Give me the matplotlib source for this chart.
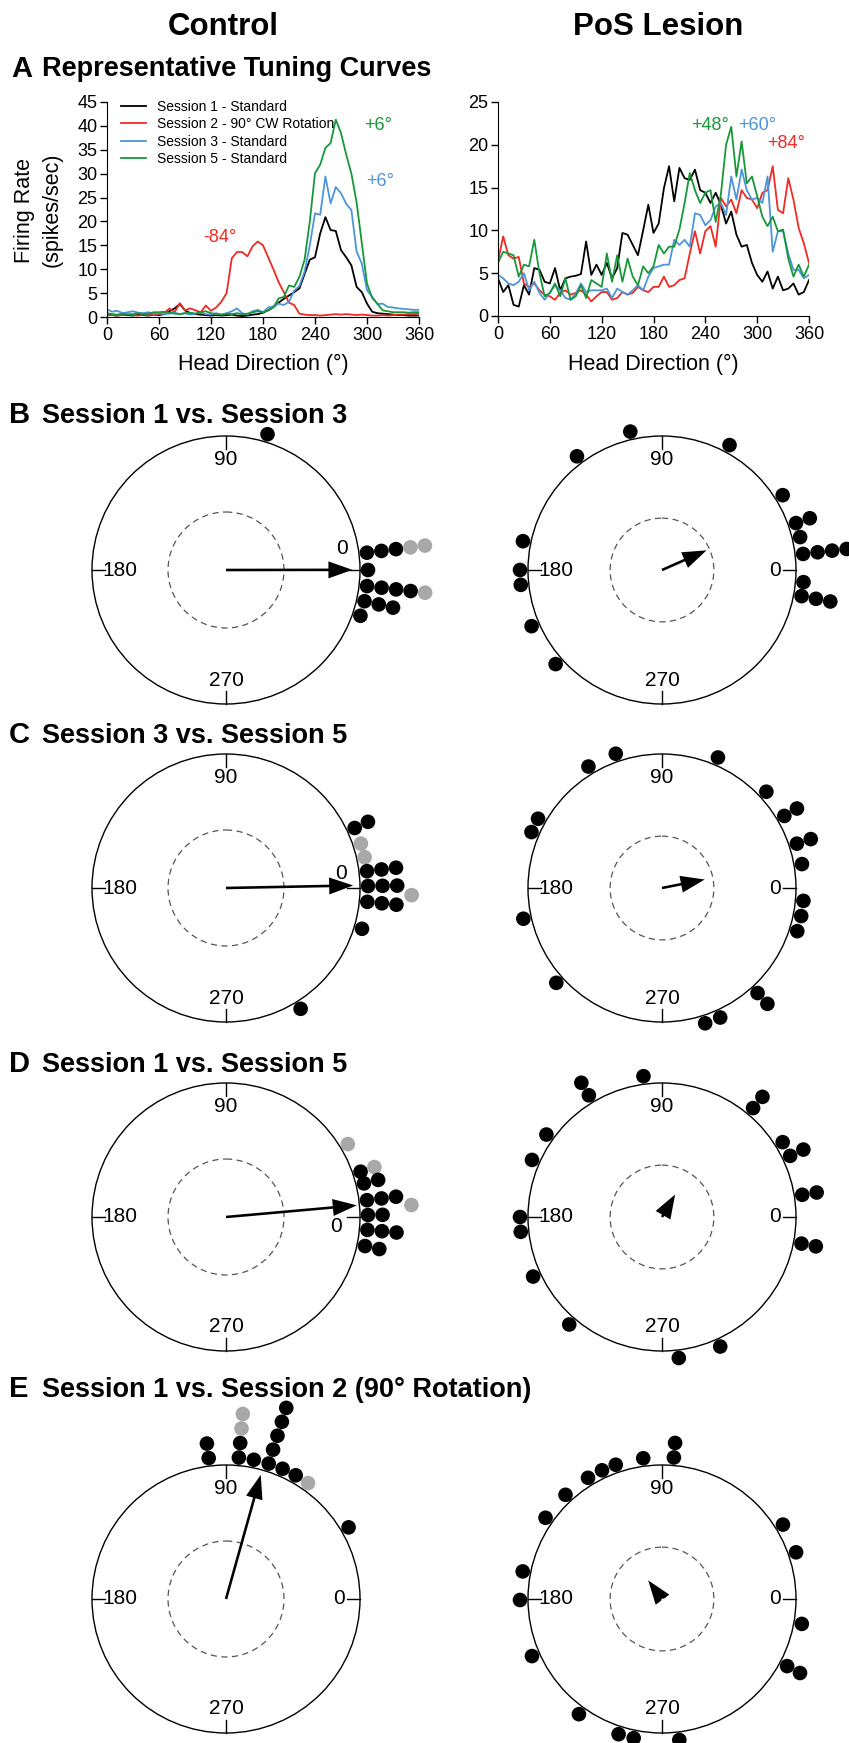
import numpy as np
import matplotlib.pyplot as plt
from matplotlib.patches import Circle, FancyArrow

plt.rcParams['font.family'] = ['Liberation Sans', 'DejaVu Sans']

W, H = 849, 1743

# ---------------- A: tuning curves, firing rate (spikes/sec) every 6 deg
hd = np.arange(0, 361, 6)

ctrl_s1 = [0.5, 0.4, 0.3, 0.5, 0.4, 0.3, 0.5, 0.4, 0.3, 0.5,
           0.4, 0.6, 1.2, 1.8, 2.7, 1.4, 0.8, 0.6, 0.5, 0.4,
           0.3, 0.4, 0.3, 0.4, 0.5, 0.3, 0.2, 0.3, 0.5, 0.6,
           0.9, 1.4, 2.1, 3.0, 3.8, 4.5, 5.2, 6.0, 9.0, 12.0,
           12.5, 17.5, 20.9, 18.2, 18.0, 14.0, 12.5, 10.8, 6.3, 5.2,
           2.8, 1.1, 0.8, 0.7, 0.6, 0.5, 0.4, 0.4, 0.3, 0.3,
           0.3]
ctrl_s2 = [0.6, 0.4, 0.3, 0.5, 0.6, 0.4, 0.3, 0.5, 0.4, 0.5,
           0.6, 0.8, 1.8, 1.0, 2.9, 1.4, 1.8, 1.4, 1.0, 2.4,
           1.3, 2.0, 3.2, 5.0, 12.3, 13.6, 13.6, 12.7, 14.8, 15.8,
           15.0, 12.5, 10.0, 7.3, 5.2, 3.0, 2.5, 0.7, 0.5, 0.4,
           0.4, 0.3, 0.4, 0.5, 0.6, 0.5, 0.6, 0.5, 0.4, 0.5,
           0.4, 0.3, 0.3, 0.4, 0.3, 0.4, 0.5, 0.5, 0.6, 0.6,
           0.7]
ctrl_s3 = [1.6, 1.1, 1.3, 0.8, 1.0, 1.2, 0.9, 0.8, 1.0, 0.7,
           0.8, 0.6, 0.7, 0.9, 0.6, 0.8, 0.5, 0.7, 0.9, 0.6,
           0.5, 0.8, 0.5, 0.8, 1.2, 1.8, 0.8, 0.5, 1.2, 1.5,
           1.0, 2.0, 2.2, 2.8, 2.5, 3.2, 5.5, 6.5, 9.5, 15.0,
           21.7, 21.4, 29.4, 23.8, 27.2, 25.9, 23.7, 22.4, 13.7, 11.2,
           5.6, 4.2, 2.7, 2.8, 2.1, 2.0, 1.8, 1.7, 1.6, 1.5,
           1.5]
ctrl_s5 = [0.8, 0.6, 0.5, 0.7, 0.5, 0.6, 0.8, 0.6, 0.7, 1.0,
           1.0, 1.1, 0.9, 0.7, 0.6, 0.8, 0.9, 0.7, 1.0, 1.2,
           0.8, 0.6, 0.5, 0.7, 0.6, 0.8, 0.6, 0.7, 1.0, 1.2,
           1.0, 1.4, 2.0, 3.9, 4.2, 6.6, 6.3, 8.4, 12.0, 20.0,
           30.1, 31.9, 35.4, 36.4, 41.3, 38.5, 34.0, 30.0, 24.0, 15.5,
           7.0, 4.0, 2.8, 1.4, 1.2, 1.0, 1.0, 1.0, 0.9, 1.0,
           1.0]

les_s1 = [4.4, 2.8, 3.6, 1.3, 1.1, 3.6, 2.5, 5.6, 5.4, 4.0,
          3.8, 5.6, 3.0, 4.4, 4.6, 4.7, 4.9, 8.7, 4.8, 6.0,
          4.8, 6.2, 4.4, 5.6, 9.7, 9.5, 8.3, 7.1, 10.0, 13.0,
          9.7, 10.8, 14.9, 17.5, 13.4, 17.3, 16.1, 15.9, 17.1, 14.7,
          14.4, 13.2, 14.4, 13.0, 10.8, 12.2, 9.5, 8.1, 8.3, 6.2,
          4.8, 4.0, 5.2, 3.2, 4.6, 3.0, 3.2, 3.8, 2.5, 2.8,
          4.2]
les_s2 = [6.4, 9.3, 7.1, 6.7, 6.9, 3.8, 3.4, 3.8, 3.0, 2.5,
          2.3, 1.9, 2.7, 3.0, 2.5, 2.7, 3.0, 2.5, 1.7, 2.3,
          2.8, 2.8, 1.9, 2.1, 2.8, 2.5, 2.7, 3.4, 3.0, 2.8,
          3.4, 3.4, 4.6, 3.4, 3.6, 4.2, 4.4, 7.3, 9.9, 7.3,
          9.9, 10.5, 8.1, 13.8, 12.8, 13.6, 12.0, 14.7, 13.8, 13.6,
          12.6, 14.4, 14.7, 17.5, 12.4, 12.0, 16.1, 13.6, 10.3, 8.5,
          6.2]
les_s3 = [4.8, 4.4, 3.8, 3.6, 4.0, 5.0, 3.0, 4.0, 2.7, 1.9,
          2.7, 3.6, 3.0, 2.1, 1.9, 2.6, 3.8, 2.8, 3.0, 3.0,
          3.0, 3.2, 2.1, 3.2, 2.8, 2.5, 3.0, 3.6, 3.0, 4.6,
          5.6, 5.8, 6.0, 6.0, 8.9, 8.3, 8.9, 8.1, 12.0, 11.8,
          10.6, 11.2, 12.8, 13.2, 11.8, 16.3, 13.6, 17.1, 14.7, 13.6,
          13.8, 13.2, 16.3, 7.5, 9.9, 9.9, 7.3, 5.4, 5.4, 4.4,
          4.8]
les_s5 = [6.2, 7.5, 7.3, 7.1, 4.6, 6.0, 5.8, 8.9, 5.0, 2.3,
          2.7, 3.8, 2.3, 4.4, 1.9, 2.3, 3.6, 2.1, 4.2, 3.8,
          3.4, 7.3, 4.0, 7.1, 4.0, 6.7, 4.6, 3.6, 5.8, 5.0,
          5.8, 8.3, 7.3, 8.1, 8.1, 10.1, 13.2, 16.7, 14.7, 13.2,
          14.4, 14.7, 11.0, 14.2, 20.0, 22.1, 16.3, 20.4, 15.5, 16.3,
          14.0, 11.6, 10.5, 11.6, 9.9, 10.1, 6.7, 4.6, 6.0, 4.6,
          6.0]

session_labels = ['Session 1 - Standard', 'Session 2 - 90\u00b0 CW Rotation',
                  'Session 3 - Standard', 'Session 5 - Standard']
session_colors = ['black', '#ee2a24', '#4d94d9', '#17973a']

# ---------------- B-E: preferred direction shift of each cell (deg)
# one entry per angular bin; each character of the string is one stacked cell
# k = black, g = grey, ' ' = empty slot
ctrl_b_ang = [73, 7, 0, -6.5, -12.7, -18.8]
ctrl_b_dots = ['k', 'kkkgg', 'k', 'kkkkg', 'kkk', 'k']
les_b_ang = [102.9, 126.8, 61.6, 31.8, 19.3, 13.4, 6.5, -4.9, -10.6,
             168.3, 180, 186, 203.3, 221.5]
les_b_dots = ['k', 'k', 'k', 'k', 'kk', 'k', 'kkkk', 'k', 'kkk',
              'k', 'k', 'k', 'k', 'k']

ctrl_c_ang = [25, 18.2, 12.5, 6.8, 0.8, -2.2, -5.6, -16.7, -58.3]
ctrl_c_dots = ['kk', 'g', 'g', 'kkk', 'kkk', '   g', 'kkk', 'k', 'k']
les_c_ang = [109, 121.2, 66.8, 42.7, 30.5, 18.2, 9.7, -5.2, -11.4, -17.7,
             150.8, 156.8, 192.5, 221.9, -47.7, -72.3, -65.8]
les_c_dots = ['k', 'k', 'k', 'k', 'kk', 'kk', 'k', 'k', 'k', 'k',
              'k', 'k', 'k', 'k', 'kk', 'k', 'k']

ctrl_d_ang = [30.9, 18.6, 13.7, 6.8, 3.7, 0.8, -5.2, -11.8]
ctrl_d_dots = ['g', 'kg', 'kk', 'kkk', '   g', 'kk', 'kkk', 'kk']
les_d_ang = [97.5, 121, 144.5, 156.3, 180, 186, 204.8, 229.2, 276.8, 294.2,
             50.1, 31.8, 25.5, 9, -10.8]
les_d_dots = ['k', 'kk', 'k', 'k', 'k', 'k', 'k', 'k', 'k', 'k',
              'kk', 'k', 'kk', 'kk', 'kk']

ctrl_e_ang = [97, 84.8, 78.7, 72.5, 66.5, 60.6, 54.7, 30.3]
ctrl_e_dots = ['kk', 'kkgg', 'k', 'kkkkk', 'k', 'k', 'g', 'k']
les_e_ang = [85.2, 97.6, 109, 115, 121.4, 132.8, 145.1, 168.8, 180.4, 203.7,
             234.2, 252.2, 258.5, 277, 31.6, 19.2, -10.1, -28.2]
les_e_dots = ['kk', 'k', 'k', 'k', 'k', 'k', 'k', 'k', 'k', 'k',
              'k', 'k', 'k', 'k', 'k', 'k', 'k', 'kk']

row_titles = ['Session 1 vs. Session 3', 'Session 3 vs. Session 5',
              'Session 1 vs. Session 5', 'Session 1 vs. Session 2 (90\u00b0 Rotation)']
row_letters = ['B', 'C', 'D', 'E']


def rect(l, r, t, b):
    return [l / W, 1 - b / H, (r - l) / W, (b - t) / H]


fig = plt.figure(figsize=(W / 100, H / 100), dpi=100)

axL = fig.add_axes(rect(107, 419, 102, 317))
axR = fig.add_axes(rect(498, 809, 102, 316))
for ax, curves, ymax in [(axL, [ctrl_s1, ctrl_s2, ctrl_s3, ctrl_s5], 45),
                         (axR, [les_s1, les_s2, les_s3, les_s5], 25)]:
    for vals, col, lab in zip(curves, session_colors, session_labels):
        ax.plot(hd, vals, color=col, lw=1.3, label=lab)
    ax.set_xlim(0, 360)
    ax.set_ylim(0, ymax)
    ax.set_xticks(range(0, 361, 60))
    ax.set_yticks(range(0, ymax + 1, 5))
    ax.spines['top'].set_visible(False)
    ax.spines['right'].set_visible(False)
    ax.tick_params(labelsize=13, length=5, width=1, pad=2)
    ax.patch.set_visible(False)

axL.legend(loc='upper left', bbox_to_anchor=(0.045, 1.01), frameon=False,
           fontsize=10, handlelength=1.8, handletextpad=0.8,
           labelspacing=0.25, borderpad=0, borderaxespad=0)

axL.text(313, 40.0, '+6\u00b0', color=session_colors[3], fontsize=13, ha='center', va='center')
axL.text(315, 28.3, '+6\u00b0', color=session_colors[2], fontsize=13, ha='center', va='center')
axL.text(130, 16.7, '-84\u00b0', color=session_colors[1], fontsize=13, ha='center', va='center')
axR.text(245, 22.3, '+48\u00b0', color=session_colors[3], fontsize=13, ha='center', va='center')
axR.text(300, 22.3, '+60\u00b0', color=session_colors[2], fontsize=13, ha='center', va='center')
axR.text(334, 20.2, '+84\u00b0', color=session_colors[1], fontsize=13, ha='center', va='center')

# overlay in pixel coordinates for text and circular plots
ov = fig.add_axes([0, 0, 1, 1])
ov.set_xlim(0, W)
ov.set_ylim(H, 0)
ov.axis('off')
ov.patch.set_visible(False)

ov.text(223, 35, 'Control', fontsize=22.5, fontweight='bold', ha='center', va='baseline')
ov.text(658, 35, 'PoS Lesion', fontsize=22.5, fontweight='bold', ha='center', va='baseline')
ov.text(11, 77, 'A', fontsize=21, fontweight='bold', ha='left', va='baseline')
ov.text(42, 76, 'Representative Tuning Curves', fontsize=19.5, fontweight='bold',
        ha='left', va='baseline')

for xc in (25, 52):
    pass
ov.text(25, 210, 'Firing Rate', fontsize=15.5, rotation=90, ha='center', va='center')
ov.text(52, 210, '(spikes/sec)', fontsize=15.5, rotation=90, ha='center', va='center')
ov.text(263, 364, 'Head Direction (\u00b0)', fontsize=15.5, ha='center', va='center')
ov.text(653, 364, 'Head Direction (\u00b0)', fontsize=15.5, ha='center', va='center')

R = 134
col_x = [226, 662]
row_y = [570, 888, 1217, 1599]
title_base = [423, 743, 1072, 1397]
zero_pos = [(116, -21), (115, -15), (110, 10), (113, 0)]

panels = [[(ctrl_b_ang, ctrl_b_dots), (les_b_ang, les_b_dots)],
          [(ctrl_c_ang, ctrl_c_dots), (les_c_ang, les_c_dots)],
          [(ctrl_d_ang, ctrl_d_dots), (les_d_ang, les_d_dots)],
          [(ctrl_e_ang, ctrl_e_dots), (les_e_ang, les_e_dots)]]

for i in range(4):
    ov.text(9, title_base[i], row_letters[i], fontsize=21, fontweight='bold',
            ha='left', va='baseline')
    ov.text(42, title_base[i], row_titles[i], fontsize=19.5, fontweight='bold',
            ha='left', va='baseline')
    cy = row_y[i]
    for j in range(2):
        cx = col_x[j]
        angs, stacks = panels[i][j]
        ov.add_patch(Circle((cx, cy), R, fill=False, ec='black', lw=1.0))
        # ticks and labels
        ov.plot([cx + R, cx + R - 13], [cy, cy], color='black', lw=1.0)
        ov.plot([cx - R, cx - R + 13], [cy, cy], color='black', lw=1.0)
        ov.plot([cx, cx], [cy - R, cy - R + 13], color='black', lw=1.0)
        ov.plot([cx, cx], [cy + R, cy + R - 13], color='black', lw=1.0)
        ov.text(cx, cy - R + 23, '90', fontsize=15, ha='center', va='center')
        ov.text(cx, cy + R - 24, '270', fontsize=15, ha='center', va='center')
        ov.text(cx - R + 28, cy, '180', fontsize=15, ha='center', va='center')
        zx, zy = zero_pos[i] if j == 0 else (R - 21, 0)
        ov.text(cx + zx, cy + zy, '0', fontsize=15, ha='center', va='center')

        # cells
        cell_ang = []
        for a, s in zip(angs, stacks):
            t = np.radians(a)
            for k, c in enumerate(s):
                if c == ' ':
                    continue
                cell_ang.append(t)
                r = R + 8 + k * 14.6
                ov.add_patch(Circle((cx + r * np.cos(t), cy - r * np.sin(t)), 7.3,
                                    color='black' if c == 'k' else '#a8a8a8',
                                    lw=0, zorder=3))
        cell_ang = np.array(cell_ang)
        n = len(cell_ang)
        # Rayleigh p = 0.05 critical radius
        r_crit = np.sqrt(-np.log(0.05) / n)
        ov.add_patch(Circle((cx, cy), R * r_crit, fill=False, ec='#555555',
                            lw=0.9, ls=(0, (5, 3.5))))
        mx = np.cos(cell_ang).mean()
        my = np.sin(cell_ang).mean()
        ov.add_patch(FancyArrow(cx, cy, mx * R, -my * R, width=2.6,
                                head_width=17, head_length=24,
                                length_includes_head=True, color='black',
                                lw=0, zorder=4))

fig.savefig('out.png', dpi=100)
